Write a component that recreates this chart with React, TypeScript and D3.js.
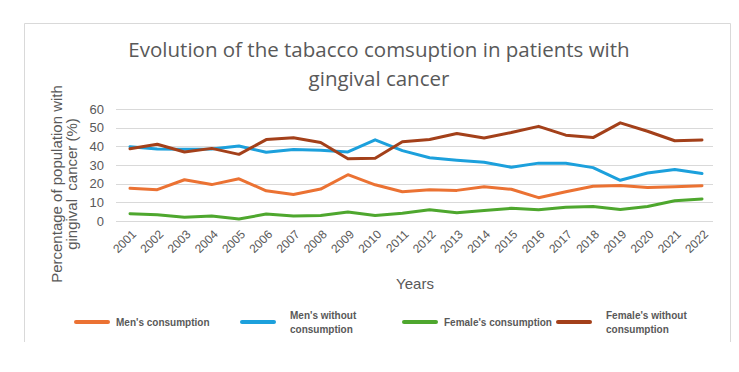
import { useEffect, useRef } from 'react';
import * as d3 from 'd3';

const years = [
  '2001', '2002', '2003', '2004', '2005', '2006', '2007', '2008', '2009', '2010', '2011',
  '2012', '2013', '2014', '2015', '2016', '2017', '2018', '2019', '2020', '2021', '2022',
];

const mensConsumption = [
  17.5, 16.8, 22.1, 19.5, 22.6, 16.2, 14.2, 17.1, 24.8, 19.4, 15.7,
  16.7, 16.4, 18.3, 17.0, 12.5, 15.7, 18.6, 19.0, 18.0, 18.4, 18.9,
];
const mensWithout = [
  39.8, 38.6, 38.4, 38.6, 40.2, 36.8, 38.3, 37.9, 37.0, 43.5, 37.7,
  33.9, 32.6, 31.5, 28.8, 31.0, 30.9, 28.6, 21.8, 25.7, 27.6, 25.4,
];
const femalesConsumption = [
  3.9, 3.4, 2.0, 2.7, 1.1, 3.7, 2.7, 3.0, 4.8, 3.0, 4.1,
  6.0, 4.4, 5.6, 6.8, 6.0, 7.4, 7.8, 6.2, 7.8, 10.8, 11.8,
];
const femalesWithout = [
  38.7, 41.1, 37.0, 38.9, 35.7, 43.6, 44.6, 42.1, 33.3, 33.6, 42.5,
  43.7, 46.9, 44.5, 47.4, 50.7, 46.0, 44.7, 52.6, 48.1, 43.0, 43.4,
];

const yTicks = [0, 10, 20, 30, 40, 50, 60];

interface Serie {
  name: string[];
  values: number[];
  color: string;
}

const series: Serie[] = [
  { name: ["Men's consumption"], values: mensConsumption, color: '#EB7233' },
  { name: ["Men's without", 'consumption'], values: mensWithout, color: '#1CA0DC' },
  { name: ["Female's consumption"], values: femalesConsumption, color: '#4EA72E' },
  { name: ["Female's without", 'consumption'], values: femalesWithout, color: '#A3401A' },
];

export default function App() {
  const svgRef = useRef<SVGSVGElement>(null);
  const width = 739;
  const height = 372;

  useEffect(() => {
    if (!svgRef.current) return;
    const svg = d3.select(svgRef.current);
    svg.selectAll('*').remove();

    const grey = '#595959';

    // frame (bottom edge is cut off in the picture)
    svg.append('path')
      .attr('d', 'M24.5,342 V23.5 H730.5 V342')
      .attr('fill', 'none')
      .attr('stroke', '#d9d9d9')
      .attr('stroke-width', 1);

    // title
    const title = svg.append('text')
      .attr('text-anchor', 'middle')
      .attr('fill', grey)
      .style('font-family', '"Open Sans", sans-serif')
      .style('font-size', '20.5px');
    title.append('tspan').attr('x', 379).attr('y', 57).text('Evolution of the tabacco comsuption in patients with');
    title.append('tspan').attr('x', 379).attr('y', 86).text('gingival cancer');

    const x = d3.scalePoint<string>().domain(years).range([130, 702]);
    const y = d3.scaleLinear().domain([0, 60]).range([221, 109]);

    // gridlines
    svg.append('g')
      .selectAll('line')
      .data(yTicks)
      .enter()
      .append('line')
      .attr('x1', 116)
      .attr('x2', 713)
      .attr('y1', d => Math.round(y(d)) + 0.5)
      .attr('y2', d => Math.round(y(d)) + 0.5)
      .attr('stroke', '#d9d9d9')
      .attr('stroke-width', 1);

    // y tick labels
    svg.append('g')
      .selectAll('text')
      .data(yTicks)
      .enter()
      .append('text')
      .attr('x', 104)
      .attr('y', d => y(d))
      .attr('dy', '0.35em')
      .attr('text-anchor', 'end')
      .attr('fill', grey)
      .style('font-family', '"Liberation Sans", Arial, sans-serif')
      .style('font-size', '13px')
      .text(d => d);

    // x tick labels
    svg.append('g')
      .selectAll('text')
      .data(years)
      .enter()
      .append('text')
      .attr('transform', d => `translate(${(x(d) ?? 0) + 4}, 232) rotate(-45)`)
      .attr('text-anchor', 'end')
      .attr('dy', '0.35em')
      .attr('fill', grey)
      .style('font-family', '"Liberation Sans", Arial, sans-serif')
      .style('font-size', '12px')
      .text(d => d);

    // axis titles
    svg.append('text')
      .attr('x', 415)
      .attr('y', 289)
      .attr('text-anchor', 'middle')
      .attr('fill', grey)
      .style('font-family', '"Liberation Sans", Arial, sans-serif')
      .style('font-size', '15px')
      .text('Years');

    const yTitle = svg.append('text')
      .attr('transform', 'translate(0, 184) rotate(-90)')
      .attr('text-anchor', 'middle')
      .attr('fill', grey)
      .style('font-family', '"Liberation Sans", Arial, sans-serif')
      .style('font-size', '15px');
    yTitle.append('tspan').attr('x', 0).attr('y', 62).text('Percentage of population with');
    yTitle.append('tspan').attr('x', 0).attr('y', 77).style('white-space', 'pre').text('gingival  cancer (%)');

    // lines
    const line = d3.line<number>()
      .x((_, i) => x(years[i]) ?? 0)
      .y(d => y(d));

    svg.append('g')
      .selectAll('path')
      .data(series)
      .enter()
      .append('path')
      .attr('d', d => line(d.values))
      .attr('fill', 'none')
      .attr('stroke', d => d.color)
      .attr('stroke-width', 3)
      .attr('stroke-linejoin', 'round')
      .attr('stroke-linecap', 'round');

    // legend
    const legendX = [76, 242, 404, 558];
    const legend = svg.selectAll('.legend')
      .data(series)
      .enter()
      .append('g')
      .attr('class', 'legend')
      .attr('transform', (_, i) => `translate(${legendX[i]}, 322)`);

    legend.append('line')
      .attr('x1', 0)
      .attr('x2', 32)
      .attr('stroke', d => d.color)
      .attr('stroke-width', 4)
      .attr('stroke-linecap', 'round');

    legend.each(function (d) {
      const t = d3.select(this).append('text')
        .attr('fill', grey)
        .style('font-family', '"Liberation Sans", Arial, sans-serif')
        .style('font-size', '10px')
        .style('font-weight', 'bold');
      const n = d.name.length;
      d.name.forEach((s, k) => {
        t.append('tspan')
          .attr('x', d.name.length > 1 ? 48 : 40)
          .attr('y', (k - (n - 1) / 2) * 14)
          .attr('dy', '0.35em')
          .text(s);
      });
    });
  }, []);

  return (
    <svg
      ref={svgRef}
      width={width}
      height={height}
      style={{ position: 'absolute', left: 0, top: 0, background: '#fff' }}
    />
  );
}
